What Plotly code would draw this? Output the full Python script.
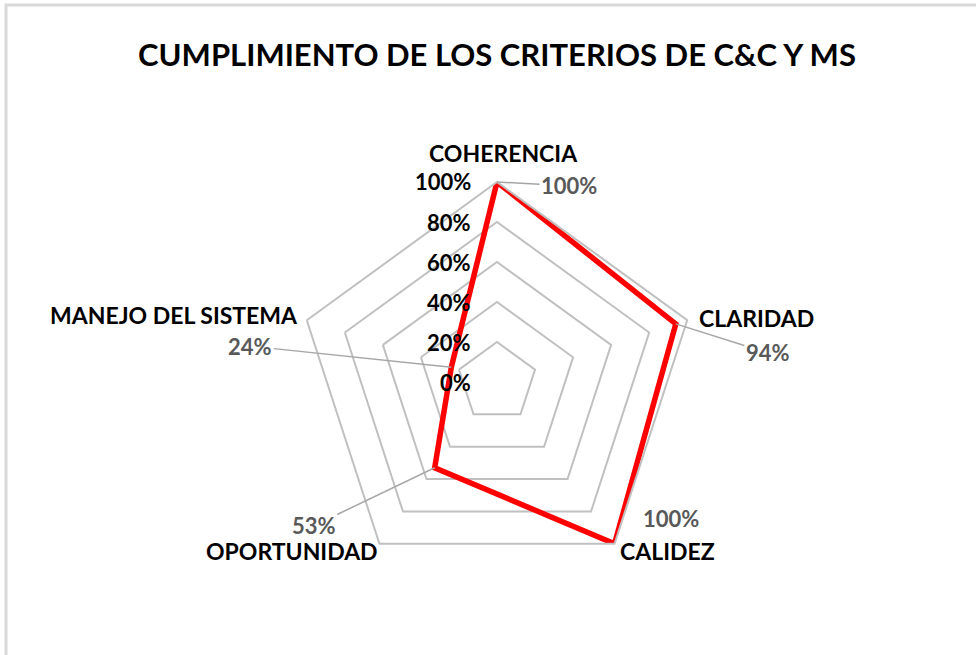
import math
import plotly.graph_objects as go

categories = ["COHERENCIA", "CLARIDAD", "CALIDEZ", "OPORTUNIDAD", "MANEJO DEL SISTEMA"]
values = [100, 94, 100, 53, 24]
radial_ticks = [0, 20, 40, 60, 80, 100]
radial_ticklabels = ["0%", "20%", "40%", "60%", "80%", "100%"]
title_text = "CUMPLIMIENTO DE LOS CRITERIOS DE C&C Y MS"

W, H = 976, 655
CX, CY, R = 497, 382, 200  # polar centre/radius in pixels
FONT = "Lato"

fig = go.Figure()
fig.add_trace(go.Scatterpolar(
    r=values + [values[0]],
    theta=categories + [categories[0]],
    mode="lines",
    line=dict(color="#ff0000", width=5.5),
    hoverinfo="skip",
    showlegend=False,
))

def to_px(v, i):
    ang = math.radians(90 - 360 * i / len(categories))
    px = CX + R * v / 100 * math.cos(ang)
    py = CY - R * v / 100 * math.sin(ang)
    return px, py

annotations = []

# category labels placed just outside the outer ring
cat_offsets = [(6, -29, "center"), (10, -2, "left"), (3, 7, "left"), (1, 7, "right"), (-7, -5, "right")]
for i, cat in enumerate(categories):
    px, py = to_px(100, i)
    ox, oy, anc = cat_offsets[i]
    annotations.append(dict(
        x=(px + ox) / W, y=1 - (py + oy) / H, xref="paper", yref="paper",
        text=cat, showarrow=False,
        font=dict(family=FONT, size=23, color="#000000", weight="bold"),
        xanchor=anc, yanchor="middle"))

# data labels with leader lines (offsets in pixels for label text)
label_offsets = [(72, 4), (92, 29), (56, -25), (-121, 58), (-201, -21)]
for i, (cat, v) in enumerate(zip(categories, values)):
    px, py = to_px(v, i)
    ox, oy = label_offsets[i]
    lab_font = dict(family=FONT, size=22, color="#595959", weight="bold")
    if i == 2:
        annotations.append(dict(
            x=(px + ox) / W, y=1 - (py + oy) / H, xref="paper", yref="paper",
            text=f"{v}%", showarrow=False, font=lab_font,
            xanchor="center", yanchor="middle"))
    else:
        annotations.append(dict(
            x=px / W, y=1 - py / H, xref="paper", yref="paper",
            text=f"{v}%", showarrow=True,
            ax=ox, ay=oy, arrowhead=0, arrowwidth=1.5, arrowcolor="#a6a6a6",
            font=lab_font, xanchor="center", yanchor="middle"))

# radial tick labels along the top axis
for t, lab in zip(radial_ticks, radial_ticklabels):
    px, py = to_px(t, 0)
    annotations.append(dict(
        x=(px - 24) / W, y=1 - py / H, xref="paper", yref="paper",
        text=lab, showarrow=False,
        font=dict(family=FONT, size=22, color="#000000", weight="bold"),
        xanchor="right", yanchor="middle"))

fig.update_layout(
    width=W, height=H,
    margin=dict(l=0, r=0, t=0, b=0),
    paper_bgcolor="white",
    plot_bgcolor="white",
    title=dict(text=title_text, x=CX / W, y=1 - 55 / H,
               xanchor="center", yanchor="middle",
               font=dict(family=FONT, size=31, color="#000000", weight="bold")),
    polar=dict(
        domain=dict(x=[(CX - R) / W, (CX + R) / W], y=[1 - (CY + R) / H, 1 - (CY - R) / H]),
        bgcolor="white",
        gridshape="linear",
        radialaxis=dict(
            range=[0, 100], tickvals=radial_ticks,
            angle=90, showticklabels=False,
            showline=False, ticks="", showgrid=True,
            gridcolor="#c0c0c0", gridwidth=2,
        ),
        angularaxis=dict(
            rotation=90, direction="clockwise",
            showgrid=False, showline=True, linecolor="#c0c0c0", linewidth=2,
            ticks="", showticklabels=False,
        ),
    ),
    annotations=annotations,
    shapes=[dict(type="rect", xref="paper", yref="paper",
                 x0=6 / W, x1=1.2, y0=-0.2, y1=1 - 5 / H,
                 line=dict(color="#d9d9d9", width=3))],
)

fig.write_html("out.html", config={"displayModeBar": False},
               post_script="document.body.style.margin='0';")
